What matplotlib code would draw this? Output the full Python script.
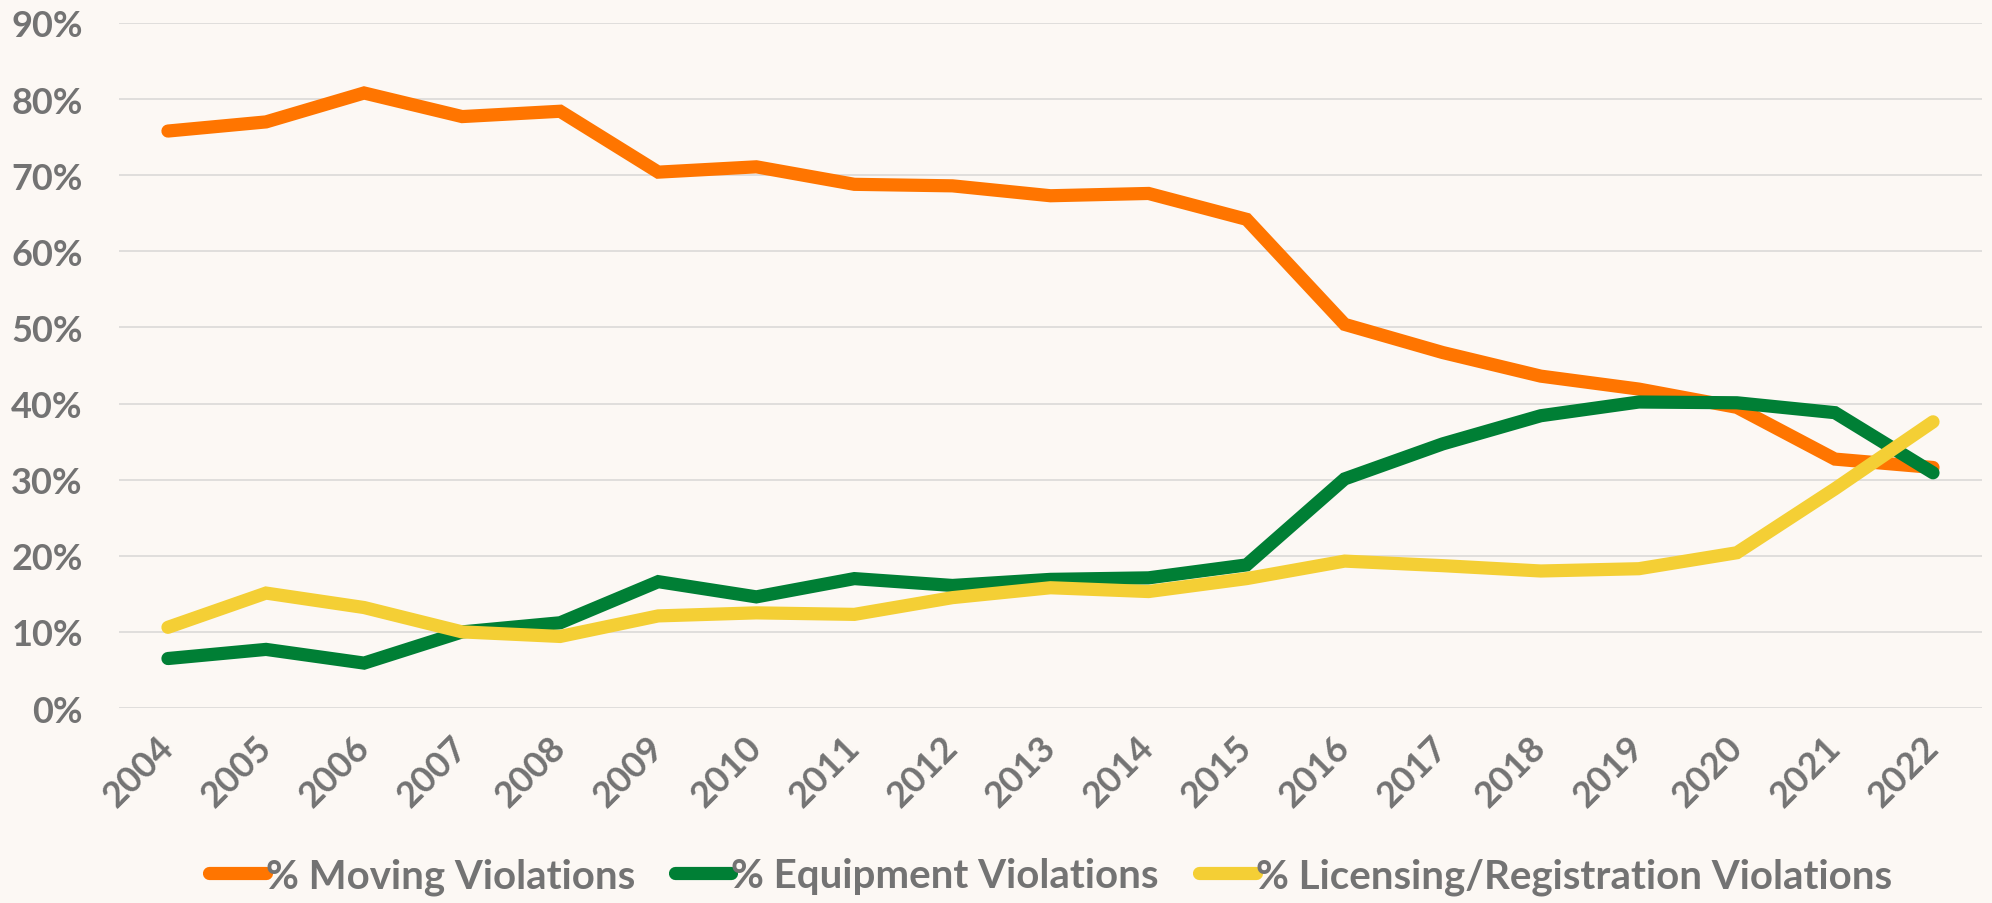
import matplotlib
matplotlib.use("Agg")
import matplotlib.pyplot as plt
from matplotlib.ticker import FuncFormatter

# values (percent)
years = ["2004", "2005", "2006", "2007", "2008", "2009", "2010", "2011", "2012", "2013",
         "2014", "2015", "2016", "2017", "2018", "2019", "2020", "2021", "2022"]
moving = [75.8, 77.0, 80.8, 77.7, 78.4, 70.4, 71.1, 68.8, 68.6, 67.3,
          67.6, 64.2, 50.4, 46.7, 43.6, 41.9, 39.5, 32.7, 31.6]
equipment = [6.5, 7.7, 5.9, 10.0, 11.2, 16.6, 14.6, 17.0, 16.1, 16.9,
             17.1, 18.8, 30.1, 34.7, 38.4, 40.2, 40.1, 38.8, 30.9]
licensing = [10.6, 15.1, 13.2, 10.0, 9.4, 12.1, 12.5, 12.3, 14.5, 15.8,
             15.3, 17.0, 19.3, 18.7, 18.0, 18.3, 20.4, 28.8, 37.6]

series_names = ["% Moving Violations", "% Equipment Violations", "% Licensing/Registration Violations"]
series_colors = ["#FF7500", "#007F35", "#F4CF35"]

BG = "#FCF8F4"
TEXT = "#737373"

plt.rcParams["font.family"] = ["Lato", "DejaVu Sans"]
plt.rcParams["font.weight"] = "bold"

fig = plt.figure(figsize=(19.92, 9.04), dpi=100, facecolor=BG)
ax = fig.add_axes([0.0597, 0.2157, 0.9353, 0.7578], facecolor=BG)

x = list(range(len(years)))
for vals, name, color in zip([moving, equipment, licensing], series_names, series_colors):
    ax.plot(x, vals, color=color, lw=9.5, label=name,
            solid_capstyle="round", solid_joinstyle="miter")

ax.set_xlim(-0.5, len(years) - 0.5)
ax.set_ylim(0, 90)
ax.set_yticks(range(0, 91, 10))
ax.yaxis.set_major_formatter(FuncFormatter(lambda v, _: f"{v:.0f}%"))
ax.set_xticks(x)
ax.set_xticklabels(years, rotation=45, ha="right", va="center", rotation_mode="anchor")

ax.grid(axis="y", color="#DEDCDA", lw=1.3)
ax.set_axisbelow(True)
for s in ax.spines.values():
    s.set_visible(False)
ax.tick_params(axis="both", length=0, colors=TEXT, labelsize=26)
ax.tick_params(axis="y", pad=26)
ax.tick_params(axis="x", pad=24)
for lbl in ax.get_xticklabels() + ax.get_yticklabels():
    lbl.set_fontweight("bold")

leg = ax.legend(loc="center", bbox_to_anchor=(0.5, -0.245), ncol=3, frameon=False,
                fontsize=29, handlelength=1.4, handletextpad=0.0, columnspacing=1.0)
for t in leg.get_texts():
    t.set_color(TEXT)
    t.set_fontweight("bold")

fig.savefig("out.png", dpi=100, facecolor=BG)
